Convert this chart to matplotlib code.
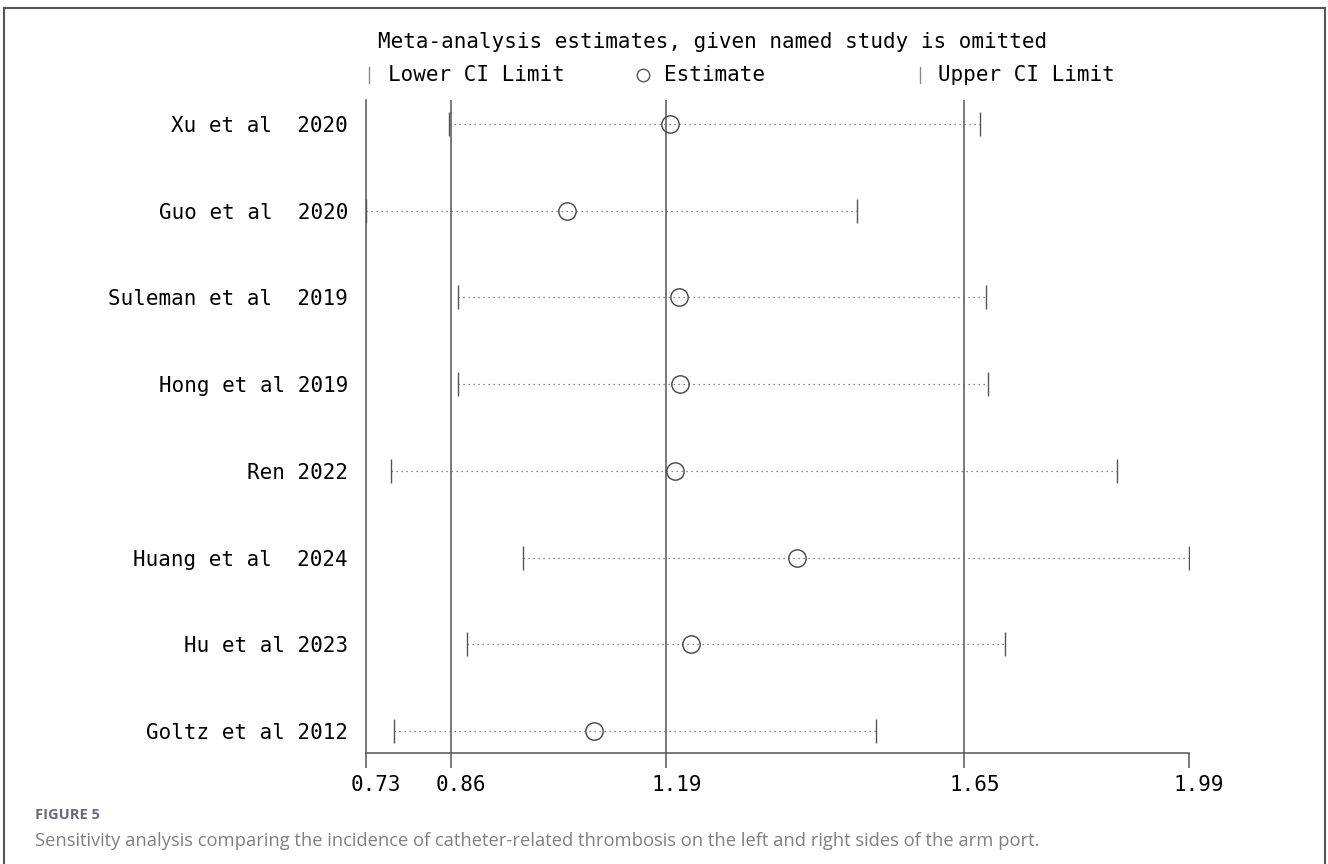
import matplotlib.pyplot as plt
from matplotlib.lines import Line2D
import matplotlib.transforms as mtransforms

# data
studies = ["Xu et al  2020", "Guo et al  2020", "Suleman et al  2019",
           "Hong et al 2019", "Ren 2022", "Huang et al  2024",
           "Hu et al 2023", "Goltz et al 2012"]
estimate = [1.195, 1.038, 1.209, 1.211, 1.203, 1.390, 1.228, 1.079]
lower = [0.857, 0.730, 0.871, 0.871, 0.768, 0.970, 0.885, 0.773]
upper = [1.670, 1.482, 1.679, 1.682, 1.880, 1.990, 1.708, 1.511]
overall = [0.86, 1.19, 1.646]   # lower CI, estimate, upper CI
xticks = [0.73, 0.86, 1.19, 1.646, 1.99]
xtick_labels = ["0.73", "0.86", "1.19", "1.65", "1.99"]

W, H = 1328, 864
mono = "DejaVu Sans Mono"
plt.rcParams['font.family'] = mono

fig = plt.figure(figsize=(W / 100, H / 100), dpi=100)
ax = fig.add_axes([366 / W, (H - 753) / H, (1189 - 366) / W, (753 - 100) / H])

rows = list(range(1, len(studies) + 1))
gray = "#555555"

for x in overall:
    ax.axvline(x, color=gray, lw=1.1, zorder=1)

ax.hlines(rows, lower, upper, colors="#666666", linestyles=(0, (1, 3)), lw=0.9, zorder=2)
ax.plot(lower, rows, ls="none", marker="|", ms=17, mew=1.0, color="#555555", zorder=3)
ax.plot(upper, rows, ls="none", marker="|", ms=17, mew=1.0, color="#555555", zorder=3)
ax.plot(estimate, rows, ls="none", marker="o", ms=12.5, mfc="none", mec="#444444", mew=1.0, zorder=4)

ax.set_xlim(0.73, 1.99)
ax.set_ylim(8.254, 0.723)

ax.set_yticks(rows)
ax.set_yticklabels(studies, fontsize=15)
ax.tick_params(axis="y", length=0, pad=13)

ax.set_xticks(xticks)
ax.set_xticklabels(xtick_labels, fontsize=15)
ax.tick_params(axis="x", direction="out", length=11, width=1.1, color=gray, pad=5)
offset = mtransforms.ScaledTranslation(10 / 100, 0, fig.dpi_scale_trans)
for lab in ax.get_xticklabels():
    lab.set_transform(lab.get_transform() + offset)

for s in ["top", "right"]:
    ax.spines[s].set_visible(False)
for s in ["left", "bottom"]:
    ax.spines[s].set_color(gray)
    ax.spines[s].set_linewidth(1.1)

# title and legend line
fig.text(378 / W, 1 - 42 / H, "Meta-analysis estimates, given named study is omitted",
         fontsize=15, va="center", ha="left")
leg_y = 1 - 75 / H
fig.add_artist(Line2D([369 / W, 369 / W], [leg_y - 8 / H, leg_y + 8 / H], color="#888888", lw=1.0))
fig.text(388 / W, leg_y, "Lower CI Limit", fontsize=15, va="center", ha="left")
fig.add_artist(Line2D([643 / W], [leg_y], marker="o", ms=9, mfc="none", mec="#555555", mew=1.0))
fig.text(664 / W, leg_y, "Estimate", fontsize=15, va="center", ha="left")
fig.add_artist(Line2D([920 / W, 920 / W], [leg_y - 8 / H, leg_y + 8 / H], color="#888888", lw=1.0))
fig.text(938 / W, leg_y, "Upper CI Limit", fontsize=15, va="center", ha="left")

# frame around the figure
frame = "#555555"
fig.add_artist(Line2D([4 / W, 4 / W], [0, 1 - 8 / H], color=frame, lw=1.5))
fig.add_artist(Line2D([4 / W, 1325 / W], [1 - 8 / H, 1 - 8 / H], color=frame, lw=1.5))
fig.add_artist(Line2D([1325 / W, 1325 / W], [0, 1 - 8 / H], color=frame, lw=1.5))

# caption
fig.text(35 / W, 1 - 815 / H, "FIGURE 5", fontsize=10.5, fontweight="bold",
         color="#6a6a7a", family="Open Sans", va="center", ha="left")
fig.text(35 / W, 1 - 841 / H,
         "Sensitivity analysis comparing the incidence of catheter-related thrombosis "
         "on the left and right sides of the arm port.",
         fontsize=13.2, color="#808080", family="Open Sans", va="center", ha="left")

fig.savefig("out.png", dpi=100)
